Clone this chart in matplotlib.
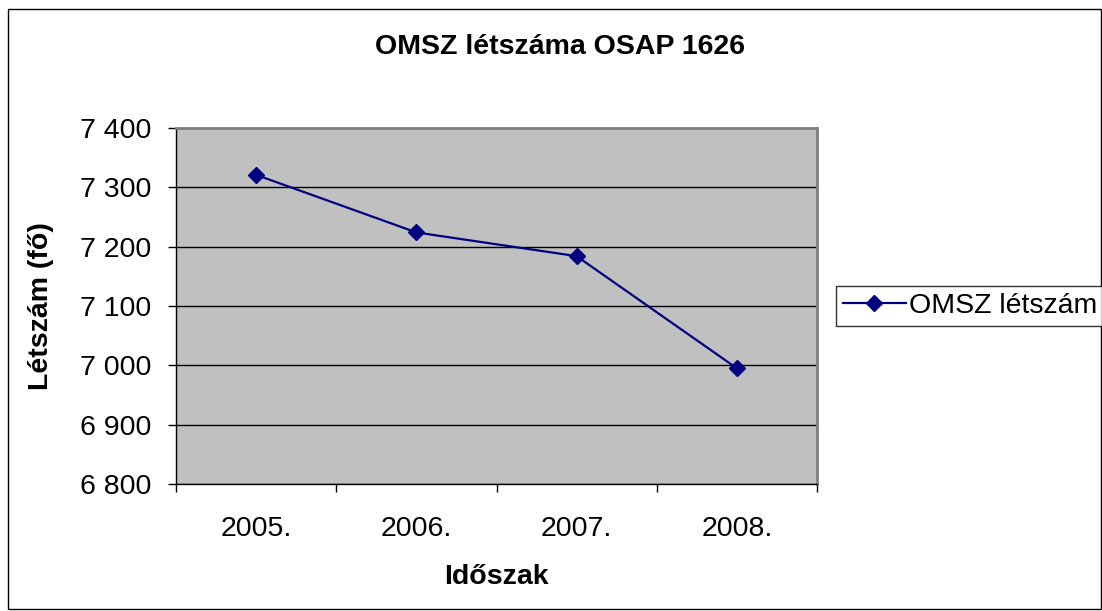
import numpy as np
import matplotlib.pyplot as plt
from matplotlib.patches import Rectangle

plt.rcParams['font.family'] = ['Liberation Sans', 'DejaVu Sans']

# data
years = ['2005.', '2006.', '2007.', '2008.']
letszam = [7321, 7224, 7184, 6995]
series_name = 'OMSZ létszám'

fs = 20.5

fig = plt.figure(figsize=(11.02, 6.11), dpi=100)
ax = fig.add_axes([176/1102, 1 - 484/611, (817-176)/1102, (484-128)/611])

ax.set_facecolor('#C0C0C0')
x = np.arange(len(years)) + 0.5
ax.plot(x, letszam, color='#000080', lw=1.6, marker='D', markersize=8.5,
        label=series_name, zorder=3)

ax.set_xlim(0, len(years))
ax.set_ylim(6800, 7400)
yt = np.arange(6800, 7401, 100)
ax.set_yticks(yt)
ax.set_yticklabels([f'{v:,}'.replace(',', ' ') for v in yt])
ax.yaxis.grid(True, color='black', lw=1)
ax.set_axisbelow(True)

# category boundaries get the tick marks, labels sit in the middle
ax.set_xticks(np.arange(len(years) + 1))
ax.set_xticklabels([])
ax.set_xticks(x, minor=True)
ax.set_xticklabels(years, minor=True)
ax.tick_params(axis='x', which='minor', length=0, pad=23, labelsize=fs)
ax.tick_params(axis='x', which='major', length=6, width=1, direction='out')
ax.tick_params(axis='y', length=6, width=1, labelsize=fs, pad=12)

for s in ['left', 'bottom']:
    ax.spines[s].set_color('black')
    ax.spines[s].set_linewidth(1)
for s in ['top', 'right']:
    ax.spines[s].set_color('#808080')
    ax.spines[s].set_linewidth(2)

ax.set_xlabel('Időszak', fontsize=fs, fontweight='bold')
ax.xaxis.set_label_coords(0.5, -(577 - 484) / 356)
ax.xaxis.label.set_va('center')
ax.set_ylabel('Létszám (fő)', fontsize=fs, fontweight='bold')
ax.yaxis.set_label_coords(-(176 - 41) / 641, 0.5)
ax.yaxis.label.set_va('center')
fig.text(560/1102, 1 - 47/611, 'OMSZ létszáma OSAP 1626', ha='center', va='center',
         fontsize=fs, fontweight='bold')

leg = fig.legend(loc='center left', bbox_to_anchor=(836/1102, 1 - 306/611),
                 fontsize=fs, frameon=True, fancybox=False, borderpad=0.25,
                 handlelength=2.2, handletextpad=0.1, borderaxespad=0)
leg.get_frame().set_edgecolor('black')
leg.get_frame().set_linewidth(1)

fig.patches.append(Rectangle((8/1102, 2/611), 1093/1102, 600/611,
                             transform=fig.transFigure, fill=False,
                             edgecolor='black', lw=1))

fig.savefig('out.png', dpi=100)
